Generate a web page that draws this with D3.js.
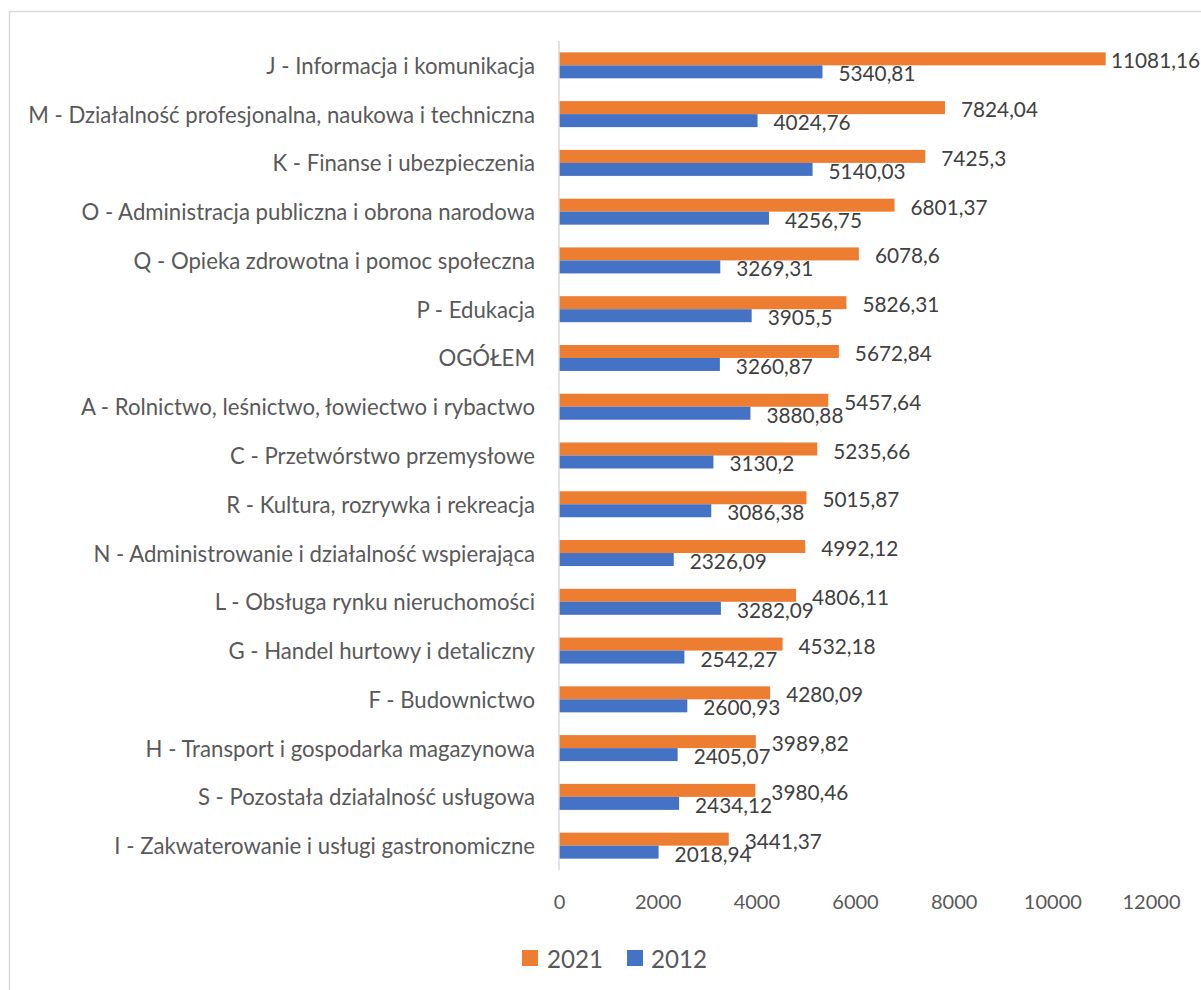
<!DOCTYPE html>
<html>
<head>
<meta charset="utf-8">
<script src="https://cdn.jsdelivr.net/npm/d3@7"></script>
<style>
  html, body { margin: 0; padding: 0; background: #fff; }
  svg { display: block; }
</style>
</head>
<body>
<div id="chart"></div>
<script>
const categories = [
  'J - Informacja i komunikacja',
  'M - Działalność profesjonalna, naukowa i techniczna',
  'K - Finanse i ubezpieczenia',
  'O - Administracja publiczna i obrona narodowa',
  'Q - Opieka zdrowotna i pomoc społeczna',
  'P - Edukacja',
  'OGÓŁEM',
  'A - Rolnictwo, leśnictwo, łowiectwo i rybactwo',
  'C - Przetwórstwo przemysłowe',
  'R - Kultura, rozrywka i rekreacja',
  'N - Administrowanie i działalność wspierająca',
  'L - Obsługa rynku nieruchomości',
  'G - Handel hurtowy i detaliczny',
  'F - Budownictwo',
  'H - Transport i gospodarka magazynowa',
  'S - Pozostała działalność usługowa',
  'I - Zakwaterowanie i usługi gastronomiczne'
];
const values2021 = [11081.16, 7824.04, 7425.3, 6801.37, 6078.6, 5826.31, 5672.84, 5457.64,
  5235.66, 5015.87, 4992.12, 4806.11, 4532.18, 4280.09, 3989.82, 3980.46, 3441.37];
const values2012 = [5340.81, 4024.76, 5140.03, 4256.75, 3269.31, 3905.5, 3260.87, 3880.88,
  3130.2, 3086.38, 2326.09, 3282.09, 2542.27, 2600.93, 2405.07, 2434.12, 2018.94];
const seriesNames = ['2021', '2012'];
const xTicks = [0, 2000, 4000, 6000, 8000, 10000, 12000];

const W = 1201, H = 990;
const COLORS = { '2021': '#ED7D31', '2012': '#4472C4' };
const TEXT = '#595959';
const FONT = 'Lato, "Open Sans", sans-serif';

const svg = d3.select('#chart').append('svg')
  .attr('width', W).attr('height', H)
  .style('font-family', FONT);

// size a font so a sample string gets a given pixel width
function fitSize(sample, target) {
  const t = svg.append('text').attr('font-size', 100).text(sample);
  const w = t.node().getComputedTextLength();
  t.remove();
  return 100 * target / w;
}
const catSize = fitSize(categories[1], 507);
const valSize = fitSize('7824,04', 77);
const tickSize = fitSize('12000', 58);
const legSize = fitSize('2021', 56);

// chart border (only left and top fall inside the picture)
svg.append('rect')
  .attr('x', 9.5).attr('y', 11.5)
  .attr('width', 1210).attr('height', 1000)
  .attr('fill', 'none').attr('stroke', '#d9d9d9').attr('stroke-width', 1.5);

const x = d3.scaleLinear().domain([0, 12000]).range([559, 1151]);
const y = d3.scaleBand().domain(categories).range([41, 870])
  .paddingInner(0.467).paddingOuter(0.233);
const ySub = d3.scaleBand().domain(seriesNames).range([0, y.bandwidth()]);

const rows = categories.map((c, i) => ({ cat: c, v: { '2021': values2021[i], '2012': values2012[i] } }));

// bars
const groups = svg.append('g').selectAll('g')
  .data(rows)
  .enter().append('g')
  .attr('transform', d => `translate(0,${y(d.cat)})`);

groups.selectAll('rect')
  .data(d => seriesNames.map(s => ({ s, v: d.v[s] })))
  .enter().append('rect')
  .attr('x', x(0))
  .attr('y', d => ySub(d.s))
  .attr('width', d => x(d.v) - x(0))
  .attr('height', ySub.bandwidth())
  .attr('fill', d => COLORS[d.s]);

// value labels, outside end, kept inside the chart area
const fmt = v => String(v).replace('.', ',');
groups.selectAll('text.val')
  .data(d => seriesNames.map(s => ({ s, v: d.v[s] })))
  .enter().append('text')
  .attr('class', 'val')
  .attr('font-size', valSize)
  .attr('fill', '#404040')
  .attr('y', d => ySub(d.s) + ySub.bandwidth() / 2 + 1.5)
  .attr('dominant-baseline', 'central')
  .text(d => fmt(d.v))
  .attr('x', function (d) {
    const w = this.getComputedTextLength();
    return Math.min(x(d.v) + 16, 1200 - w);
  });

// category axis line
svg.append('line')
  .attr('x1', x(0)).attr('x2', x(0))
  .attr('y1', 41).attr('y2', 870)
  .attr('stroke', '#d9d9d9').attr('stroke-width', 1.5);

// category labels
svg.append('g').selectAll('text')
  .data(categories)
  .enter().append('text')
  .attr('x', 535)
  .attr('y', d => y(d) + y.bandwidth() / 2)
  .attr('text-anchor', 'end')
  .attr('dominant-baseline', 'central')
  .attr('font-size', catSize)
  .attr('fill', TEXT)
  .text(d => d);

// x axis tick labels (no line, no ticks)
const xAxis = svg.append('g')
  .attr('transform', 'translate(0,901)')
  .call(d3.axisBottom(x).tickValues(xTicks).tickSize(0).tickPadding(0).tickFormat(d3.format('d')));
xAxis.select('.domain').remove();
xAxis.selectAll('text')
  .attr('font-family', FONT)
  .attr('font-size', tickSize)
  .attr('fill', TEXT)
  .attr('dy', null)
  .attr('dominant-baseline', 'central');

// legend
const legendItems = [
  { s: '2021', sx: 522, tx: 547 },
  { s: '2012', sx: 627, tx: 651 }
];
const leg = svg.append('g').selectAll('g')
  .data(legendItems)
  .enter().append('g');
leg.append('rect')
  .attr('x', d => d.sx).attr('y', 950)
  .attr('width', 16).attr('height', 16)
  .attr('fill', d => COLORS[d.s]);
leg.append('text')
  .attr('x', d => d.tx).attr('y', 958)
  .attr('dominant-baseline', 'central')
  .attr('font-size', legSize)
  .attr('fill', TEXT)
  .text(d => d.s);
</script>
</body>
</html>
